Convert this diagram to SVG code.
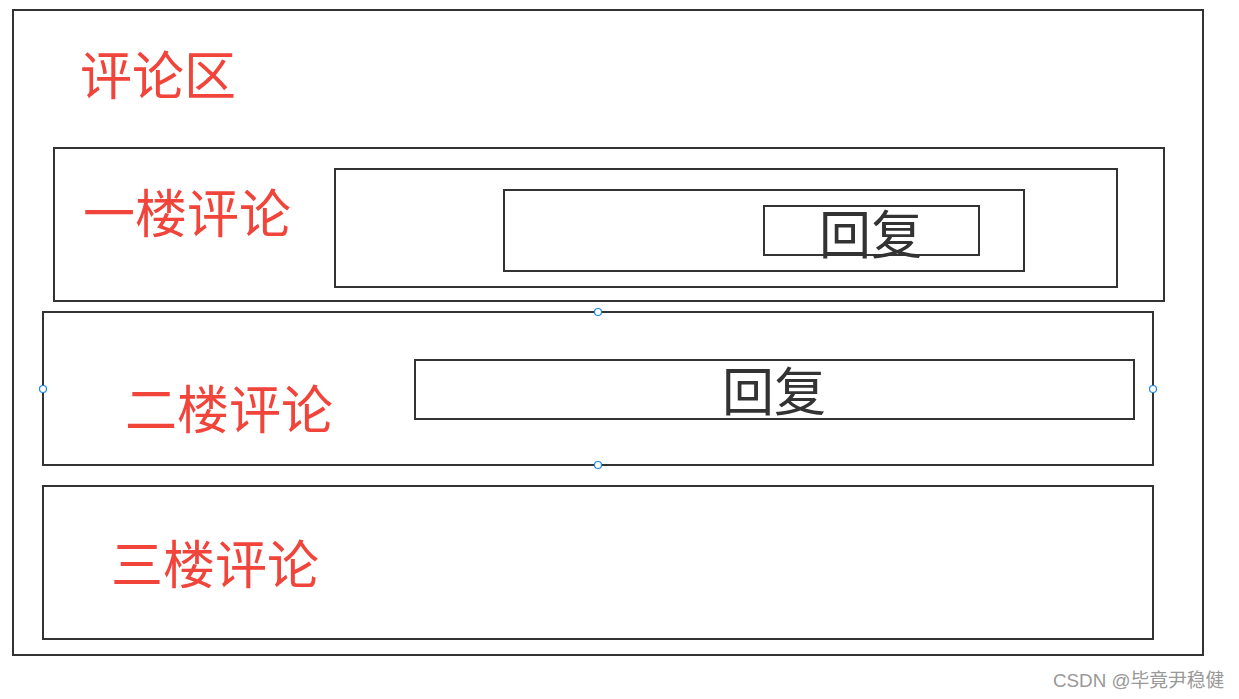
<svg xmlns="http://www.w3.org/2000/svg" width="1239" height="699" viewBox="0 0 1239 699">
<style>
.box{fill:none;stroke:#333;stroke-width:2}
.red{fill:#f1443a;font-family:"Noto Sans CJK SC","Liberation Sans",sans-serif;font-size:52px}
.dark{fill:#333;font-family:"Noto Sans CJK SC","Liberation Sans",sans-serif;font-size:52px}
.h{fill:#fff;stroke:#1e88e5;stroke-width:1.2}
.wm{fill:#999;font-family:"Liberation Sans","Noto Sans CJK SC",sans-serif;font-size:18.8px}
</style>
<rect width="1239" height="699" fill="#fff"/>
<g id="area">
<rect class="box" x="13" y="10" width="1190" height="645"/>
<text class="red" x="80" y="95">评论区</text>
</g>
<g id="floor1">
<rect class="box" x="54" y="148" width="1110" height="153"/>
<text class="red" x="83" y="233">一楼评论</text>
</g>
<g id="floor1-inner">
<rect class="box" x="335" y="169" width="782" height="118"/>
</g>
<g id="floor1-inner2">
<rect class="box" x="504" y="190" width="520" height="81"/>
</g>
<g id="reply1">
<rect class="box" x="764" y="206" width="215" height="49"/>
<text class="dark" x="819" y="254">回复</text>
</g>
<g id="floor2">
<rect class="box" x="43" y="312" width="1110" height="153"/>
<text class="red" x="125" y="429">二楼评论</text>
</g>
<g id="reply2">
<rect class="box" x="415" y="360" width="719" height="59"/>
<text class="dark" x="722" y="411">回复</text>
</g>
<g id="floor3">
<rect class="box" x="43" y="486" width="1110" height="153"/>
<text class="red" x="111" y="584">三楼评论</text>
</g>
<g id="handles">
<circle class="h" cx="598" cy="312" r="3.5"/>
<circle class="h" cx="43" cy="389" r="3.5"/>
<circle class="h" cx="1153" cy="389" r="3.5"/>
<circle class="h" cx="598" cy="465" r="3.5"/>
</g>
<g id="connectors"></g>
<text class="wm" x="1053" y="687">CSDN @毕竟尹稳健</text>
</svg>
